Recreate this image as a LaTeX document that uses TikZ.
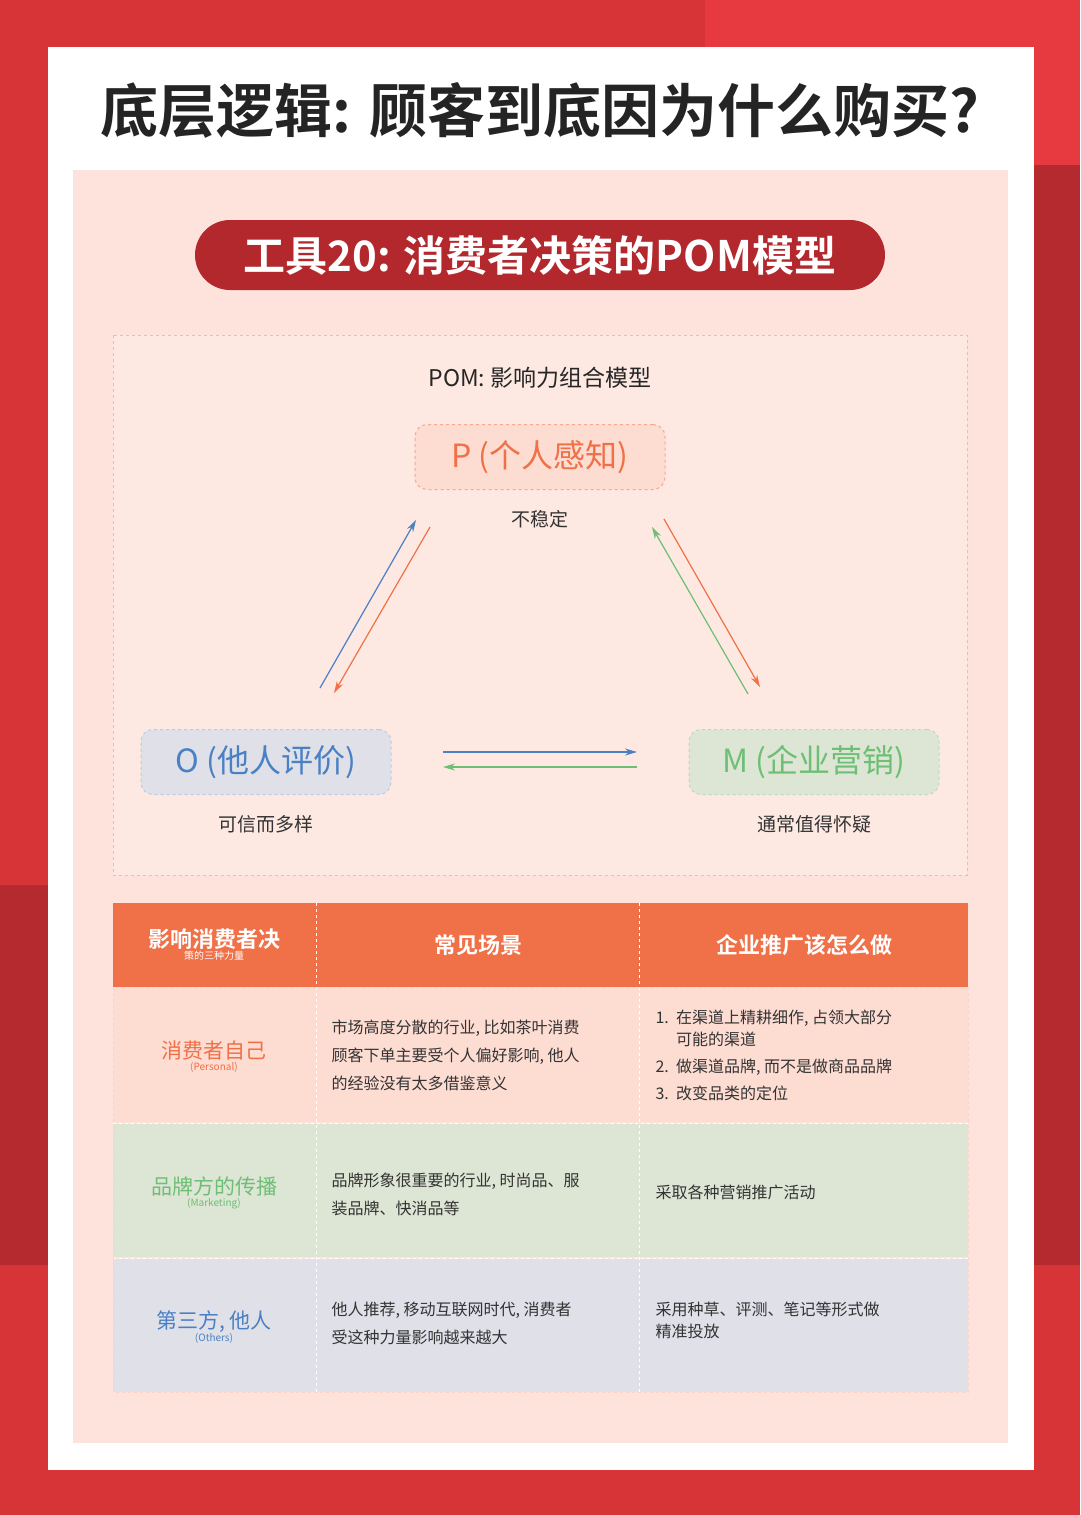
\documentclass[tikz,border=0pt]{standalone}
\usepackage{fontspec}
\setmainfont{Noto Sans CJK SC}
\newfontfamily\cjkb{Noto Sans CJK SC Bold}
\usetikzlibrary{arrows.meta}
\definecolor{redA}{HTML}{D63436}
\definecolor{redB}{HTML}{E63A40}
\definecolor{redC}{HTML}{B52A2E}
\definecolor{pinkbg}{HTML}{FDE3DB}
\definecolor{pill}{HTML}{B3282D}
\definecolor{orng}{HTML}{F07048}
\definecolor{bluex}{HTML}{4A80C4}
\definecolor{greenx}{HTML}{6CBF74}
\definecolor{rowP}{HTML}{FDDCD2}
\definecolor{rowM}{HTML}{DDE5D5}
\definecolor{rowO}{HTML}{DFE0E8}
\definecolor{txt}{HTML}{333333}
\tikzset{
 px/.style={x=1pt,y=-1pt},
 pombox/.style={draw=orng!60,dashed,rounded corners=12pt,minimum width=250pt,minimum height=65pt,line width=1pt},
 arr/.style={-{Stealth[length=12pt,width=7pt]},line width=1.2pt},
 body/.style={font=\fontsize{16}{28}\selectfont,text=txt,align=left,anchor=west},
 sep/.style={draw=white,dashed,line width=1pt}
}
\begin{document}
\begin{tikzpicture}[px]
\useasboundingbox (0,0) rectangle (1080,1515);
\fill[redA] (0,0) rectangle (1080,1515);
\fill[redB] (705,0) rectangle (1080,165);
\fill[redC] (1034,165) rectangle (1080,1265);
\fill[redC] (0,885) rectangle (48,1265);
\fill[white] (48,47) rectangle (1034,1470);
\fill[pinkbg] (73,170) rectangle (1008,1443);
\node (title) at (540,110) {\cjkb\fontsize{58}{60}\selectfont\color{txt!70!black}底层逻辑: 顾客到底因为什么购买?};
\fill[pill,rounded corners=35pt] (195,220) rectangle (885,290);
\node[text=white] (pilltxt) at (540,255) {\cjkb\fontsize{42}{44}\selectfont 工具20: 消费者决策的POM模型};
\draw[orng!50,dashed,line width=1pt,fill=pinkbg!80!white] (113,335) rectangle (967,875);
\node (pomt) at (540,378) {\fontsize{23}{25}\selectfont\color{black!85}POM: 影响力组合模型};
\node[pombox,fill=rowP] (P) at (540,457) {\fontsize{32}{34}\selectfont\color{orng}P (个人感知)};
\node[pombox,draw=bluex!40,fill=rowO] (O) at (266,762) {\fontsize{32}{34}\selectfont\color{bluex}O (他人评价)};
\node[pombox,draw=greenx!50,fill=rowM] (M) at (814,762) {\fontsize{32}{34}\selectfont\color{greenx}M (企业营销)};
\node (pl) at (540,519) {\fontsize{19}{21}\selectfont\color{txt}不稳定};
\node (ol) at (266,824) {\fontsize{19}{21}\selectfont\color{txt}可信而多样};
\node (ml) at (814,824) {\fontsize{19}{21}\selectfont\color{txt}通常值得怀疑};
\coordinate (a1) at (320,688); \coordinate (a2) at (416,520);
\coordinate (b1) at (430,527); \coordinate (b2) at (334,693);
\coordinate (c1) at (664,519); \coordinate (c2) at (760,687);
\coordinate (d1) at (748,694); \coordinate (d2) at (652,527);
\coordinate (e1) at (443,752); \coordinate (e2) at (637,752);
\coordinate (f1) at (637,767); \coordinate (f2) at (443,767);
\draw[arr,bluex] (a1)--(a2);
\draw[arr,orng] (b1)--(b2);
\draw[arr,orng] (c1)--(c2);
\draw[arr,greenx] (d1)--(d2);
\draw[arr,bluex] (e1)--(e2);
\draw[arr,greenx] (f1)--(f2);
% table
\fill[orng] (113,903) rectangle (968,987);
\fill[rowP] (113,987) rectangle (968,1122);
\fill[rowM] (113,1124) rectangle (968,1257);
\fill[rowO] (113,1259) rectangle (968,1392);
\draw[sep] (316,903)--(316,1392); \draw[sep] (639,903)--(639,1392);
\draw[sep] (113,1123)--(968,1123); \draw[sep] (113,1258)--(968,1258);
\draw[orng!30,dashed] (113,987) rectangle (968,1392);
\node[text=white,align=center] (h1) at (214,945) {\cjkb\fontsize{22}{25}\selectfont 影响消费者决\\策的三种力量};
\node[text=white] (h2) at (478,945) {\cjkb\fontsize{22}{25}\selectfont 常见场景};
\node[text=white] (h3) at (804,945) {\cjkb\fontsize{22}{25}\selectfont 企业推广该怎么做};
\node[align=center,text=orng] (r1) at (214,1057) {\fontsize{21}{29}\selectfont 消费者自己\\(Personal)};
\node[align=center,text=greenx] (r2) at (214,1193) {\fontsize{21}{29}\selectfont 品牌方的传播\\(Marketing)};
\node[align=center,text=bluex] (r3) at (214,1327) {\fontsize{21}{29}\selectfont 第三方, 他人\\(Others)};
\node[body] (s1) at (328,1055) {市场高度分散的行业, 比如茶叶消费\\顾客下单主要受个人偏好影响, 他人\\的经验没有太多借鉴意义};
\node[body] (s2) at (328,1194) {品牌形象很重要的行业, 时尚品、服\\装品牌、快消品等};
\node[body] (s3) at (328,1323) {他人推荐, 移动互联网时代, 消费者\\受这种力量影响越来越大};
\node[body,font=\fontsize{16}{22}\selectfont] (t1) at (652,1055) {1.\ \ 在渠道上精耕细作, 占领大部分\\\phantom{1.\ \ }可能的渠道\\[5pt]2.\ \ 做渠道品牌, 而不是做商品品牌\\[5pt]3.\ \ 改变品类的定位};
\node[body] (t2) at (652,1192) {采取各种营销推广活动};
\node[body,font=\fontsize{16}{22}\selectfont] (t3) at (652,1320) {采用种草、评测、笔记等形式做\\精准投放};
\end{tikzpicture}
\end{document}
